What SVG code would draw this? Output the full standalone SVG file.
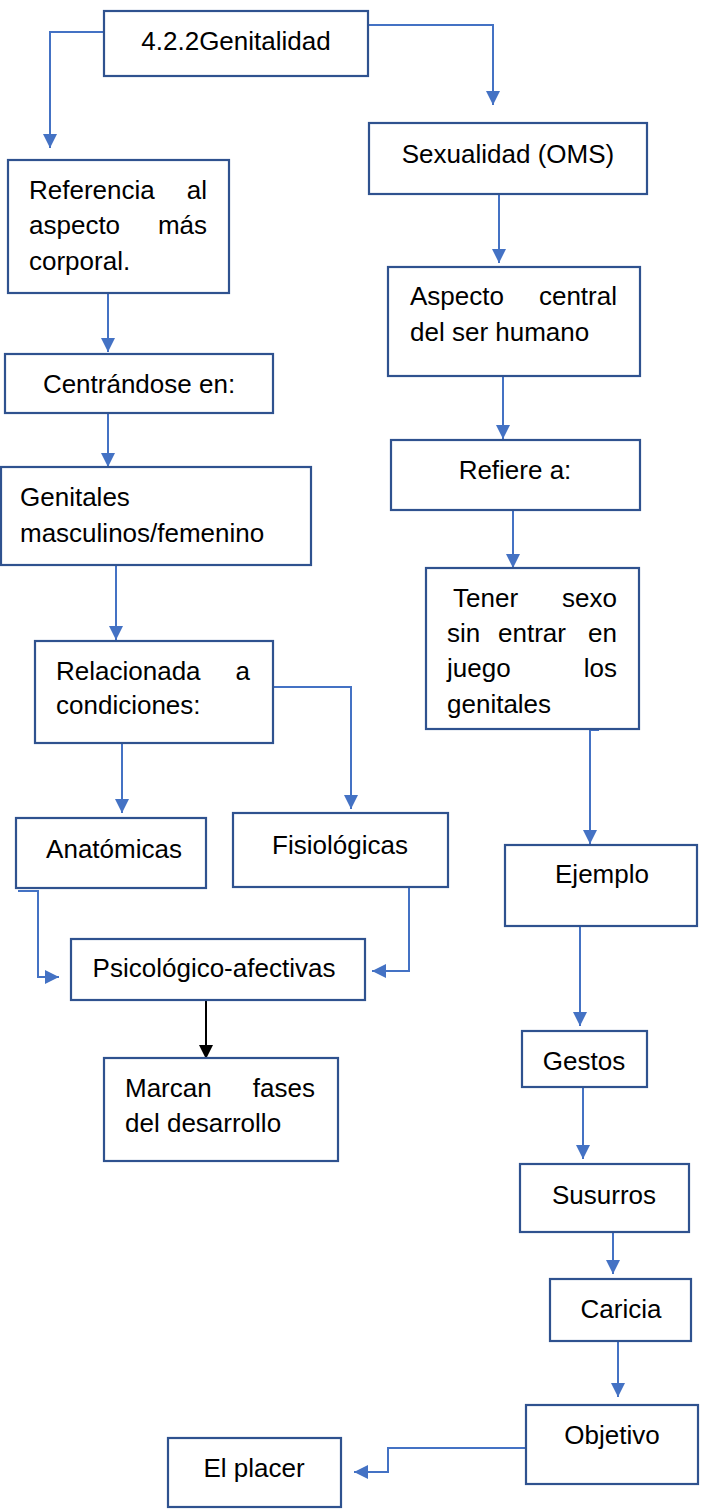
<svg xmlns="http://www.w3.org/2000/svg" width="708" height="1510" viewBox="0 0 708 1510">
<style>
.box{fill:#ffffff;stroke:#2f528f;stroke-width:2.2}
.c{fill:none;stroke:#4472c4;stroke-width:2}
.k{fill:none;stroke:#000000;stroke-width:2}
text{font-family:"Liberation Sans",Arial,sans-serif;font-size:26px;fill:#000000}
.m{text-anchor:middle}
.e{text-anchor:end}
</style>
<defs>
<marker id="ab" markerUnits="userSpaceOnUse" markerWidth="16" markerHeight="16" refX="14" refY="7" orient="auto"><path d="M0,0 L14,7 L0,14 z" fill="#4472c4"/></marker>
<marker id="ak" markerUnits="userSpaceOnUse" markerWidth="16" markerHeight="16" refX="14" refY="7" orient="auto"><path d="M0,0 L14,7 L0,14 z" fill="#000000"/></marker>
</defs>
<rect width="708" height="1510" fill="#ffffff"/>
<g id="connectors">
<path class="c" marker-end="url(#ab)" d="M104,32 H50 V148"/>
<path class="c" marker-end="url(#ab)" d="M368,25 H493 V105"/>
<path class="c" marker-end="url(#ab)" d="M108,293 V352"/>
<path class="c" marker-end="url(#ab)" d="M499,194 V263"/>
<path class="c" marker-end="url(#ab)" d="M108,413 V467"/>
<path class="c" marker-end="url(#ab)" d="M503,376 V439"/>
<path class="c" marker-end="url(#ab)" d="M116,565 V640"/>
<path class="c" marker-end="url(#ab)" d="M513,510 V568"/>
<path class="c" marker-end="url(#ab)" d="M122,743 V813"/>
<path class="c" marker-end="url(#ab)" d="M273,687 H351 V809"/>
<path class="c" marker-end="url(#ab)" d="M599,730 H590 V844"/>
<path class="c" marker-end="url(#ab)" d="M18,891 H38 V977 H59"/>
<path class="c" marker-end="url(#ab)" d="M409,887 V971 H372"/>
<path class="k" marker-end="url(#ak)" d="M206,1000 V1059"/>
<path class="c" marker-end="url(#ab)" d="M580,926 V1026"/>
<path class="c" marker-end="url(#ab)" d="M583,1087 V1159"/>
<path class="c" marker-end="url(#ab)" d="M613,1232 V1274"/>
<path class="c" marker-end="url(#ab)" d="M618,1341 V1397"/>
<path class="c" marker-end="url(#ab)" d="M526,1448 H388 V1472 H354"/>
</g>
<g id="n-genitalidad"><rect class="box" x="104" y="11" width="264" height="65"/><text class="m" x="236" y="50">4.2.2Genitalidad</text></g>
<g id="n-sexualidad"><rect class="box" x="369" y="123" width="278" height="71"/><text class="m" x="508" y="163">Sexualidad (OMS)</text></g>
<g id="n-referencia"><rect class="box" x="8" y="160" width="221" height="133"/>
<text x="29" y="199">Referencia</text><text class="e" x="207" y="199">al</text>
<text x="29" y="234">aspecto</text><text class="e" x="207" y="234">más</text>
<text x="29" y="270">corporal.</text></g>
<g id="n-aspecto"><rect class="box" x="388" y="267" width="252" height="109"/>
<text x="410" y="305">Aspecto</text><text class="e" x="617" y="305">central</text>
<text x="410" y="341">del ser humano</text></g>
<g id="n-centrandose"><rect class="box" x="5" y="354" width="268" height="59"/><text class="m" x="139" y="393">Centrándose en:</text></g>
<g id="n-refiere"><rect class="box" x="391" y="440" width="249" height="70"/><text class="m" x="515" y="479">Refiere a:</text></g>
<g id="n-genitales"><rect class="box" x="1" y="467" width="310" height="98"/>
<text x="20" y="506">Genitales</text>
<text x="20" y="542">masculinos/femenino</text></g>
<g id="n-tener"><rect class="box" x="426" y="568" width="213" height="161"/>
<text x="453" y="607">Tener</text><text class="e" x="617" y="607">sexo</text>
<text x="447" y="642">sin</text><text x="498" y="642">entrar</text><text class="e" x="617" y="642">en</text>
<text x="447" y="677">juego</text><text class="e" x="617" y="677">los</text>
<text x="447" y="713">genitales</text></g>
<g id="n-relacionada"><rect class="box" x="35" y="641" width="238" height="102"/>
<text x="56" y="680">Relacionada</text><text class="e" x="250" y="680">a</text>
<text x="56" y="714">condiciones:</text></g>
<g id="n-anatomicas"><rect class="box" x="16" y="818" width="190" height="70"/><text class="m" x="114" y="858">Anatómicas</text></g>
<g id="n-fisiologicas"><rect class="box" x="233" y="813" width="215" height="74"/><text class="m" x="340" y="854">Fisiológicas</text></g>
<g id="n-ejemplo"><rect class="box" x="505" y="845" width="192" height="81"/><text class="m" x="602" y="883">Ejemplo</text></g>
<g id="n-psicologico"><rect class="box" x="71" y="939" width="294" height="61"/><text class="m" x="214" y="977">Psicológico-afectivas</text></g>
<g id="n-marcan"><rect class="box" x="104" y="1058" width="234" height="103"/>
<text x="125" y="1097">Marcan</text><text class="e" x="315" y="1097">fases</text>
<text x="125" y="1132">del desarrollo</text></g>
<g id="n-gestos"><rect class="box" x="522" y="1031" width="125" height="56"/><text class="m" x="584" y="1070">Gestos</text></g>
<g id="n-susurros"><rect class="box" x="520" y="1164" width="169" height="68"/><text class="m" x="604" y="1204">Susurros</text></g>
<g id="n-caricia"><rect class="box" x="550" y="1279" width="141" height="62"/><text class="m" x="621" y="1318">Caricia</text></g>
<g id="n-objetivo"><rect class="box" x="526" y="1405" width="172" height="79"/><text class="m" x="612" y="1444">Objetivo</text></g>
<g id="n-placer"><rect class="box" x="168" y="1438" width="173" height="69"/><text class="m" x="254" y="1477">El placer</text></g>
</svg>
